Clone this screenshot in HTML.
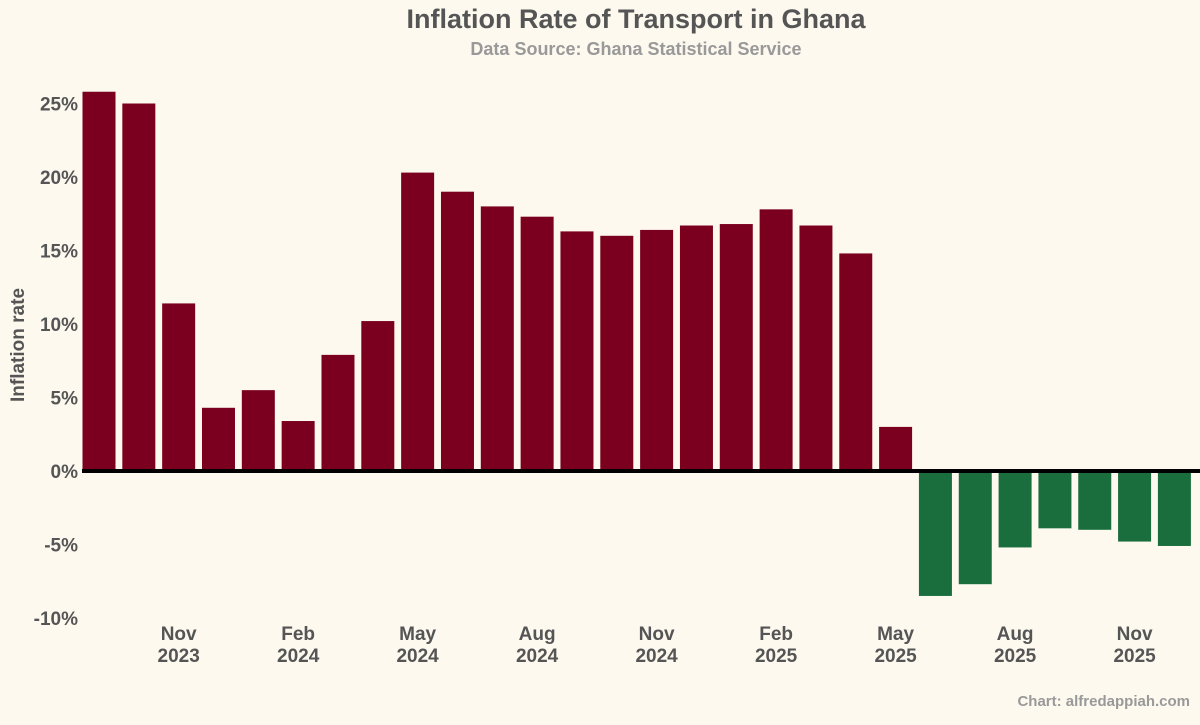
<!DOCTYPE html>
<html><head><meta charset="utf-8"><style>
body{margin:0;background:#fdf9ef;font-family:"Liberation Sans",sans-serif;}
svg text{font-family:"Liberation Sans",sans-serif;font-weight:bold;fill:#555;}
</style></head><body>
<svg id="c" width="1200" height="720">
<rect width="1200" height="720" fill="#fdf9ef"/>
<text x="636" y="28" text-anchor="middle" font-size="27">Inflation Rate of Transport in Ghana</text>
<text x="636" y="55" text-anchor="middle" font-size="18" style="fill:#999">Data Source: Ghana Statistical Service</text>
<text transform="translate(24,345) rotate(-90)" text-anchor="middle" font-size="19">Inflation rate</text>
<text x="1190" y="706" text-anchor="end" font-size="15" style="fill:#999">Chart: alfredappiah.com</text>
<g id="ticks"></g><g id="bars"></g><g id="xt"></g>
</svg>
<script>
const values=[25.8,25.0,11.4,4.3,5.5,3.4,7.9,10.2,20.3,19.0,18.0,17.3,16.3,16.0,16.4,16.7,16.8,17.8,16.7,14.8,3.0,-8.5,-7.7,-5.2,-3.9,-4.0,-4.8,-5.1];
const yTicks=[25,20,15,10,5,0,-5,-10];
const xLabels=[[2,"Nov","2023"],[5,"Feb","2024"],[8,"May","2024"],[11,"Aug","2024"],[14,"Nov","2024"],[17,"Feb","2025"],[20,"May","2025"],[23,"Aug","2025"],[26,"Nov","2025"]];
const NS="http://www.w3.org/2000/svg";
const y=v=>471-v*14.7;
const step=39.83, x0=82.5, bw=33;
const x=i=>x0+i*step;
const T=document.getElementById('ticks'),B=document.getElementById('bars'),X=document.getElementById('xt');
yTicks.forEach(t=>{const e=document.createElementNS(NS,'text');


e.setAttribute('x',78);e.setAttribute('y',y(t)+7);e.setAttribute('text-anchor','end');e.setAttribute('font-size','19');e.textContent=t+'%';T.appendChild(e);});
values.forEach((v,i)=>{const r=document.createElementNS(NS,'rect');


r.setAttribute('x',x(i));r.setAttribute('width',bw);r.setAttribute('y',Math.min(y(v),y(0)));r.setAttribute('height',Math.abs(y(v)-y(0)));r.setAttribute('fill',v>=0?'#7b0020':'#1a6e3e');B.appendChild(r);});
const z=document.createElementNS(NS,'rect');


z.setAttribute('x',82);z.setAttribute('y',y(0)-2);z.setAttribute('width',1118);z.setAttribute('height',4);z.setAttribute('fill','#000');B.appendChild(z);
xLabels.forEach(([i,m,yr])=>{[m,yr].forEach((s,k)=>{const e=document.createElementNS(NS,'text');


e.setAttribute('x',x(i)+bw/2);e.setAttribute('y',640+k*22);e.setAttribute('text-anchor','middle');e.setAttribute('font-size','19');e.textContent=s;X.appendChild(e);});});
</script>
</body></html>
